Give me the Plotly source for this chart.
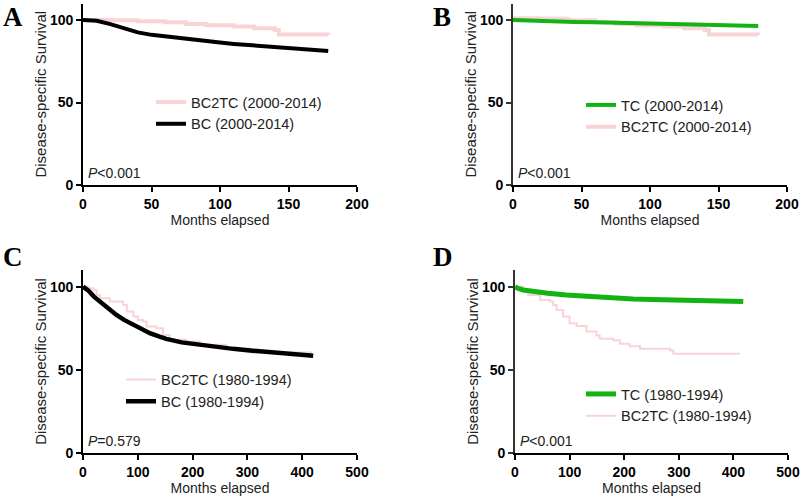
import plotly.graph_objects as go

# ---------------- data ----------------
# Panel A  (2000-2014)
a_bc2tc_t = [0, 20, 40, 60, 75, 90, 110, 125, 140, 143, 179]
a_bc2tc_s = [100, 99.8, 99.2, 98.6, 97.6, 96.8, 96.0, 95.0, 94.0, 91.2, 91.0]
a_bc_t = [0, 10, 20, 30, 40, 50, 60, 70, 80, 90, 100, 110, 120, 130, 140, 150, 160, 170, 179]
a_bc_s = [100, 99.5, 97.5, 95.0, 92.5, 91.0, 90.0, 88.8, 88.0, 87.0, 86.3, 85.5, 84.9, 84.3, 83.6, 83.1, 82.5, 81.9, 81.2]

# Panel B  (2000-2014)
b_tc_t = [0, 15, 30, 45, 60, 80, 100, 120, 140, 160, 179]
b_tc_s = [100, 99.5, 99.0, 98.8, 98.6, 98.2, 97.8, 97.4, 97.0, 96.6, 96.3]
b_bc2tc_t = [0, 20, 40, 60, 75, 90, 110, 125, 140, 143, 179]
b_bc2tc_s = [101.0, 100.7, 99.8, 98.6, 97.6, 96.8, 96.0, 95.0, 94.0, 91.2, 91.0]

# Panel C  (1980-1994)
c_bc2tc_t = [0, 10, 19, 25, 31, 49, 67, 73, 80, 92, 100, 110, 116, 134, 146, 158, 189, 213, 262, 304, 418]
c_bc2tc_s = [100, 99, 98, 95, 93, 91, 91, 89, 85, 82, 80, 79, 76, 75, 71, 68, 67, 65, 63, 60.4, 60.4]
c_bc_t = [0, 10, 20, 31, 45, 61, 75, 92, 107, 122, 137, 152, 180, 213, 240, 274, 300, 335, 365, 396, 420]
c_bc_s = [100, 97.5, 94.0, 91.0, 87.0, 83.0, 80.0, 77.0, 74.5, 72.0, 70.2, 68.6, 66.5, 65.0, 63.8, 62.6, 61.8, 61.0, 60.0, 59.0, 58.5]

# Panel D  (1980-1994)
d_tc_t = [0, 5, 15, 34, 60, 94, 125, 155, 185, 216, 250, 277, 310, 338, 380, 418]
d_tc_s = [100, 99, 98, 97, 96, 95, 94.2, 93.5, 93, 92.5, 92.2, 92, 91.6, 91.3, 91.1, 91]
d_bc2tc_t = [0, 15, 24, 46, 64, 70, 76, 88, 100, 113, 131, 149, 155, 180, 192, 210, 229, 284, 290, 412]
d_bc2tc_s = [100, 98, 95, 92, 91, 89, 86, 82, 78, 76.4, 73, 70.7, 68.7, 67.7, 65.7, 64.2, 62.6, 61.6, 59.6, 59.6]

x_ticks_top = [0, 50, 100, 150, 200]
x_ticks_bottom = [0, 100, 200, 300, 400, 500]
y_ticks = [0, 50, 100]

panel_labels = ["A", "B", "C", "D"]
p_values = ["<i>P</i>&lt;0.001", "<i>P</i>&lt;0.001", "<i>P</i>=0.579", "<i>P</i>&lt;0.001"]

PINK = "#F9D4D6"
GREEN = "#13B313"
BLACK = "#000000"
FONT = "Arial, Liberation Sans, sans-serif"

fig = go.Figure()

def add(t, s, name, color, width, xa, ya, legend, shape):
    fig.add_trace(go.Scatter(
        x=t, y=s, mode="lines", name=name, line=dict(color=color, width=width, shape=shape),
        xaxis=xa, yaxis=ya, legend=legend, legendgroup=name + legend, showlegend=True,
        hoverinfo="skip"))

add(a_bc2tc_t, a_bc2tc_s, "BC2TC (2000-2014)", PINK, 4, "x", "y", "legend", "hv")
add(a_bc_t, a_bc_s, "BC (2000-2014)", BLACK, 4, "x", "y", "legend", "linear")
add(b_bc2tc_t, b_bc2tc_s, "BC2TC (2000-2014)", PINK, 4, "x2", "y2", "legend2", "hv")
add(b_tc_t, b_tc_s, "TC (2000-2014)", GREEN, 4, "x2", "y2", "legend2", "linear")
add(c_bc2tc_t, c_bc2tc_s, "BC2TC (1980-1994)", PINK, 2, "x3", "y3", "legend3", "hv")
add(c_bc_t, c_bc_s, "BC (1980-1994)", BLACK, 4.5, "x3", "y3", "legend3", "linear")
add(d_bc2tc_t, d_bc2tc_s, "BC2TC (1980-1994)", PINK, 2, "x4", "y4", "legend4", "hv")
add(d_tc_t, d_tc_s, "TC (1980-1994)", GREEN, 5, "x4", "y4", "legend4", "linear")

tickfont = dict(family=FONT, size=14, color="black", weight="bold")
titlefont = dict(family=FONT, size=14, color="#222")

def xax(domain, anchor, rng, ticks):
    return dict(domain=domain, anchor=anchor, range=rng, tickvals=ticks, showline=True,
                linecolor="black", linewidth=1.6, ticks="outside", ticklen=5, tickwidth=1.6,
                tickcolor="black", showgrid=False, zeroline=False, tickfont=tickfont,
                title=dict(text="Months elapsed", font=titlefont, standoff=4), automargin=False,
                fixedrange=True)

def yax(domain, anchor, color):
    return dict(domain=domain, anchor=anchor, range=[0, 110], tickvals=y_ticks, showline=True,
                linecolor=color, linewidth=1.6, ticks="outside", ticklen=5, tickwidth=1.6,
                tickcolor=color, showgrid=False, zeroline=False, tickfont=tickfont,
                title=dict(text="Disease-specific Survival", font=dict(family=FONT, size=15, color="#222"), standoff=0),
                automargin=False, fixedrange=True)

top_y = [1 - 185 / 497, 1 - 3.5 / 497]
bot_y = [1 - 453 / 497, 1 - 270 / 497]
left_x = [83 / 800, 357 / 800]
right_x = [513 / 800, 787 / 800]
right_x_d = [515 / 800, 788 / 800]

fig.update_layout(
    xaxis=xax(left_x, "y", [0, 200], x_ticks_top),
    yaxis=yax(top_y, "x", "black"),
    xaxis2=xax(right_x, "y2", [0, 200], x_ticks_top),
    yaxis2=yax(top_y, "x2", "#333"),
    xaxis3=xax(left_x, "y3", [0, 500], x_ticks_bottom),
    yaxis3=yax(bot_y, "x3", "black"),
    xaxis4=xax(right_x_d, "y4", [0, 500], x_ticks_bottom),
    yaxis4=yax(bot_y, "x4", "#333"),
)

legfont = dict(family=FONT, size=14.5, color="#222")
def leg(x, y, gap):
    return dict(x=x, y=y, xanchor="left", yanchor="middle", font=legfont, bgcolor="rgba(0,0,0,0)",
                traceorder="normal", tracegroupgap=gap, itemwidth=30)

fig.update_layout(
    legend=leg(151 / 800, 1 - 113 / 497, 0),
    legend2=dict(leg(581 / 800, 1 - 116 / 497, 0), traceorder="reversed"),
    legend3=leg(121 / 800, 1 - 390.5 / 497, 5),
    legend4=dict(leg(581 / 800, 1 - 405 / 497, 0), traceorder="reversed"),
)

# panel letters
label_pos = [(13, 17), (442, 17), (13, 257), (443, 257)]
for lab, (px, py) in zip(panel_labels, label_pos):
    fig.add_annotation(text=lab, x=px / 800, y=1 - py / 497, xref="paper", yref="paper",
                       showarrow=False, xanchor="center", yanchor="middle",
                       font=dict(family="Times New Roman, Liberation Serif, serif", size=27, color="black", weight="bold"))

# p-values
for i, p in enumerate(p_values):
    xr = "x" if i == 0 else f"x{i+1}"
    yr = "y" if i == 0 else f"y{i+1}"
    xmax = 200 if i < 2 else 500
    fig.add_annotation(text=p, x=0.012 * xmax, y=7, xref=xr, yref=yr, showarrow=False,
                       xanchor="left", yanchor="middle", font=dict(family=FONT, size=14, color="#222"))

fig.update_layout(width=800, height=497, margin=dict(l=0, r=0, t=0, b=0),
                  paper_bgcolor="white", plot_bgcolor="white", showlegend=True,
                  hovermode=False)

fig.write_html("out.html", config={"displayModeBar": False, "staticPlot": False},
               post_script="document.body.style.margin='0';document.body.style.padding='0';document.body.style.overflow='hidden';")
